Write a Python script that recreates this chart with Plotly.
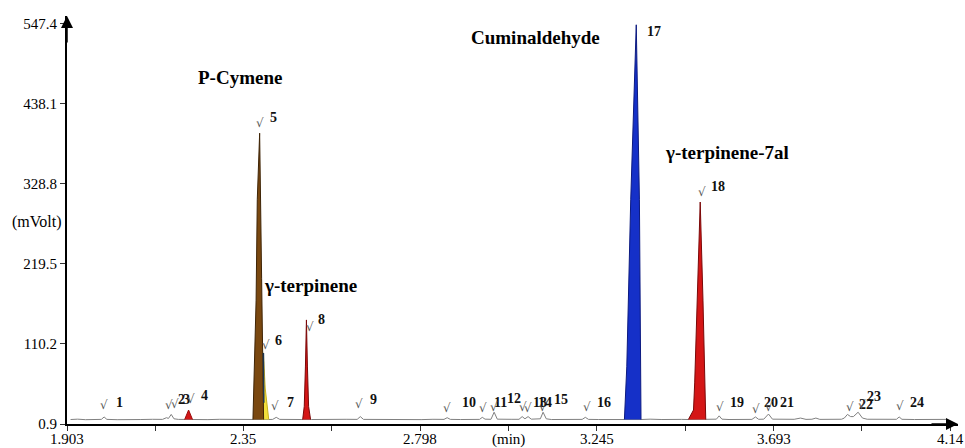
import plotly.graph_objects as go

# ---------------- data (retention time in min, signal in mVolt) ----------------
x_tickvals = [1.903, 2.1265, 2.35, 2.574, 2.798, 3.0215, 3.245, 3.469, 3.693, 3.9165, 4.14]
x_ticktext = ["1.903", "", "2.35", "", "2.798", "(min)", "3.245", "", "3.693", "", "4.14"]
y_tickvals = [0.9, 110.2, 219.5, 328.8, 438.1, 547.4]
y_ticktext = ["0.9", "110.2", "219.5", "328.8", "438.1", "547.4"]

# grey baseline trace with small peaks
base_t = [1.912, 1.93, 1.95, 1.975, 1.990, 1.997, 2.004, 2.03, 2.06, 2.09, 2.12, 2.145, 2.155, 2.160,
          2.167, 2.174, 2.185, 2.20, 2.23, 2.26, 2.29, 2.32, 2.35, 2.372, 2.413, 2.424, 2.433, 2.442,
          2.46, 2.48, 2.498, 2.522, 2.55, 2.58, 2.61, 2.638, 2.646, 2.654, 2.68, 2.71, 2.74, 2.77,
          2.80, 2.83, 2.858, 2.866, 2.874, 2.90, 2.93, 2.948, 2.955, 2.962, 2.977, 2.985, 2.993,
          3.01, 3.03, 3.048, 3.056, 3.063, 3.071, 3.079, 3.095, 3.102, 3.109, 3.117, 3.13, 3.16,
          3.19, 3.208, 3.216, 3.224, 3.25, 3.28, 3.30, 3.315, 3.357, 3.38, 3.41, 3.44, 3.46, 3.477,
          3.521, 3.535, 3.548, 3.555, 3.562, 3.58, 3.61, 3.638, 3.647, 3.655, 3.668, 3.680, 3.690,
          3.72, 3.745, 3.761, 3.775, 3.79, 3.80, 3.81, 3.84, 3.865, 3.872, 3.880, 3.888, 3.895,
          3.907, 3.918, 3.93, 3.96, 3.99, 4.004, 4.011, 4.018, 4.05, 4.08, 4.11, 4.13]
base_v = [7.0, 7.5, 6.8, 7.3, 7.2, 10.5, 7.2, 6.8, 7.4, 7.0, 7.3, 7.2, 9.5, 8.5,
          14.0, 8.0, 7.2, 7.0, 7.2, 6.9, 7.3, 7.0, 7.4, 7.0, 7.0, 7.2, 10.0, 7.2,
          6.9, 7.2, 7.0, 7.0, 7.3, 6.9, 7.3, 7.2, 11.0, 7.2, 7.0, 7.4, 6.8, 7.2,
          6.9, 7.3, 7.2, 9.5, 7.2, 7.0, 7.2, 7.2, 10.0, 7.5, 7.3, 17.0, 7.5,
          7.0, 7.3, 7.3, 11.0, 8.0, 11.0, 7.5, 7.2, 8.0, 17.0, 8.0, 7.0, 7.2,
          6.9, 7.2, 10.0, 7.2, 7.0, 7.3, 7.0, 7.0, 7.0, 7.5, 7.0, 7.5, 7.2, 7.0,
          7.0, 7.2, 7.5, 12.0, 7.5, 7.0, 7.3, 7.2, 10.5, 7.3, 7.5, 14.5, 7.5,
          7.0, 7.3, 9.0, 7.2, 7.4, 9.0, 7.2, 7.0, 7.4, 9.0, 14.0, 11.0, 11.0,
          17.0, 9.0, 7.4, 7.0, 7.2, 7.3, 10.5, 7.3, 7.0, 7.3, 7.0, 7.2]

# coloured (integrated) peaks
p4_t = [2.201, 2.211, 2.221]
p4_v = [7.0, 20.0, 7.0]
p6_t = [2.397, 2.4005, 2.405, 2.414]
p6_v = [7.0, 98.0, 50.0, 7.0]
p5_t = [2.374, 2.382, 2.385, 2.391, 2.396, 2.399, 2.401]
p5_v = [7.0, 170.0, 307.0, 398.0, 200.0, 80.0, 7.0]
p6_edge_t = [2.4005, 2.4015]
p6_edge_v = [98.0, 30.0]
p8_t = [2.500, 2.504, 2.507, 2.5095, 2.512, 2.515, 2.520]
p8_v = [7.0, 25.0, 80.0, 143.0, 80.0, 25.0, 7.0]
p17_t = [3.315, 3.321, 3.331, 3.345, 3.353, 3.355, 3.357]
p17_v = [7.0, 79.0, 307.0, 546.0, 307.0, 79.0, 7.0]
p18_t = [3.477, 3.485, 3.490, 3.493, 3.499, 3.507, 3.514, 3.518, 3.521]
p18_v = [7.0, 14.0, 20.0, 57.0, 170.0, 304.0, 170.0, 57.0, 7.0]

# peak numbering
peak_ids = [str(i) for i in range(1, 25)]
mark_t = [1.997, 2.161, 2.177, 2.217, 2.392, 2.407, 2.430, 2.519, 2.643, 2.866, 2.957, 2.985,
          3.059, 3.071, 3.109, 3.221, None, 3.512, 3.558, 3.649, 3.680, 3.887, 3.918, 4.014]
mark_v = [26.9, 26.9, 28.2, 35.0, 412.0, 108.8, 25.5, 133.4, 28.2, 22.8, 22.8, 24.1,
          24.1, 22.8, 24.1, 24.1, None, 317.8, 24.1, 21.4, 24.1, 24.1, 26.9, 25.5]
label_t = [2.022, 2.179, 2.192, 2.238, 2.412, 2.425, 2.455, 2.534, 2.666, 2.899, 2.980, 3.013,
           3.079, 3.091, 3.132, 3.241, 3.368, 3.530, 3.578, 3.664, 3.705, 3.905, 3.925, 4.034]
label_v = [30.9, 33.7, 33.7, 40.5, 419.0, 115.6, 29.6, 143.0, 33.7, 29.6, 29.6, 36.4,
           30.9, 29.6, 33.7, 29.6, 536.4, 324.7, 29.6, 29.6, 30.9, 26.9, 37.8, 29.6]

compound_names = ["P-Cymene", "γ-terpinene", "Cuminaldehyde", "γ-terpinene-7al"]
compound_t = [2.341, 2.519, 3.089, 3.574]
compound_v = [473.6, 189.4, 528.2, 371.1]

# ---------------- figure ----------------
SERIF = "Liberation Serif"
fig = go.Figure()

fig.add_trace(go.Scatter(x=base_t, y=base_v, mode="lines",
                         line=dict(color="#808080", width=1), hoverinfo="skip"))

def peak(t, v, fill, edge):
    fig.add_trace(go.Scatter(x=t, y=v, mode="lines", fill="toself", fillcolor=fill,
                             line=dict(color=edge, width=1), hoverinfo="skip"))

peak(p4_t, p4_v, "#d41616", "#9a0c0c")
peak(p6_t, p6_v, "#f2df3c", "#c9b21e")
peak(p5_t, p5_v, "#7a4810", "#3e2406")
fig.add_trace(go.Scatter(x=p6_edge_t, y=p6_edge_v, mode="lines",
                         line=dict(color="#1d3550", width=1.5), hoverinfo="skip"))
peak(p8_t, p8_v, "#d41616", "#7a0808")
peak(p17_t, p17_v, "#1530c8", "#0c1a80")
peak(p18_t, p18_v, "#d41616", "#7a0808")

ann = []
for pid, mt, mv, lt, lv in zip(peak_ids, mark_t, mark_v, label_t, label_v):
    if mt is not None:
        ann.append(dict(x=mt, y=mv, text="√", showarrow=False, xanchor="center", yanchor="middle",
                        font=dict(family="DejaVu Sans", size=12, color="#555555")))
    ann.append(dict(x=lt, y=lv, text=pid, showarrow=False, xanchor="left", yanchor="middle",
                    font=dict(family=SERIF, size=14, color="#111111", weight="bold")))

for name, ct, cv in zip(compound_names, compound_t, compound_v):
    ann.append(dict(x=ct, y=cv, text=name, showarrow=False, xanchor="center",
                    yanchor="middle", font=dict(family=SERIF, size=19, color="#000000", weight="bold")))

# x tick labels placed just under the axis
for tv, tt in zip(x_tickvals, x_ticktext):
    if tt:
        ann.append(dict(x=tv, y=0.9, text=tt, showarrow=False, xanchor="center", yanchor="middle",
                        yshift=-15, font=dict(family=SERIF, size=15, color="#000000")))

ann.append(dict(xref="paper", yref="y", x=0, y=276.9, text="(mVolt)", showarrow=False,
                xanchor="right", yanchor="middle", xshift=-4,
                font=dict(family=SERIF, size=16, color="#000000")))

# axis arrow heads
ann.append(dict(x=1.903, y=558, ax=0, ay=28, axref="pixel", ayref="pixel", text="", showarrow=True,
                arrowhead=2, arrowsize=1.6, arrowwidth=1.5, arrowcolor="#000000", standoff=0))
ann.append(dict(x=4.16, y=0.9, ax=-28, ay=0, axref="pixel", ayref="pixel", text="", showarrow=True,
                arrowhead=2, arrowsize=1.6, arrowwidth=1.5, arrowcolor="#000000", standoff=0))

fig.update_layout(
    width=965, height=448, autosize=False,
    margin=dict(l=67, r=7, t=16, b=24, pad=0, autoexpand=False),
    paper_bgcolor="white", plot_bgcolor="white",
    showlegend=False, annotations=ann,
    xaxis=dict(range=[1.903, 4.16], tickvals=x_tickvals, showticklabels=False, automargin=False,
               showline=True, linecolor="#000000", linewidth=2, ticks="outside", ticklen=5,
               tickwidth=1, tickcolor="#333333", showgrid=False, zeroline=False),
    yaxis=dict(range=[0.9, 558], tickvals=y_tickvals, ticktext=y_ticktext, automargin=False,
               showline=True, linecolor="#000000", linewidth=2, ticks="outside", ticklen=5,
               tickwidth=1, tickcolor="#333333", showgrid=False, zeroline=False,
               tickfont=dict(family=SERIF, size=15, color="#000000")),
)

fig.write_html("out.html")
